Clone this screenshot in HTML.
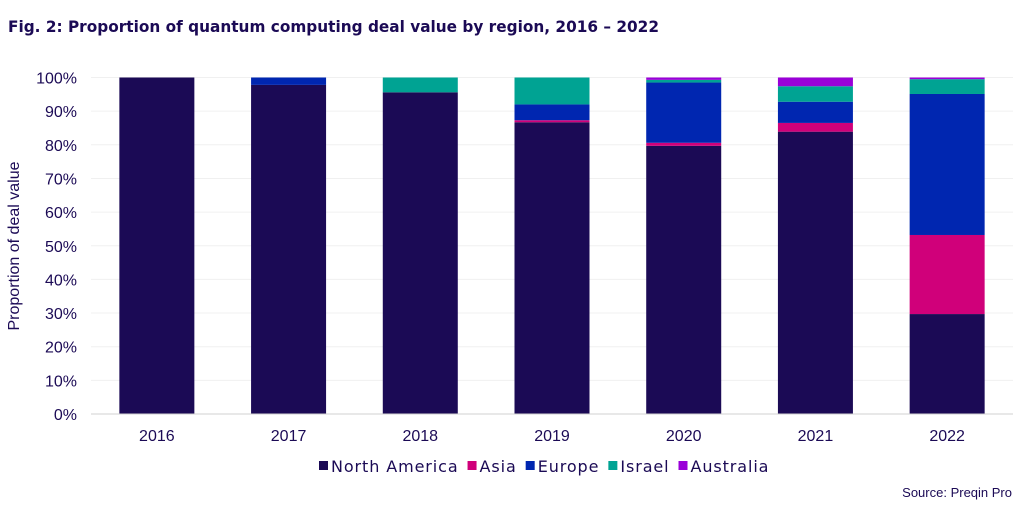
<!DOCTYPE html>
<html><head><meta charset="utf-8"><style>
body{margin:0;background:#fff;font-family:"Liberation Sans",sans-serif;}
</style></head><body>
<svg width="1024" height="512" xmlns="http://www.w3.org/2000/svg">
<text x="8" y="32" font-size="16" font-weight="bold" fill="#1b0a55" font-family="DejaVu Sans, sans-serif" textLength="651" lengthAdjust="spacingAndGlyphs">Fig. 2: Proportion of quantum computing deal value by region, 2016 – 2022</text>
<g id="grid"></g>
<g id="bars"></g>
<g id="axes"></g>
<text transform="translate(19,246) rotate(-90)" text-anchor="middle" font-size="16" fill="#1b0a55">Proportion of deal value</text>
<g id="legend"></g>
<text x="1012" y="497" text-anchor="end" font-size="13" fill="#1b0a55">Source: Preqin Pro</text>
</svg>
<script>
const categories=["2016","2017","2018","2019","2020","2021","2022"];
const northAmerica=[100,97.8,95.6,86.7,79.7,83.9,29.7];
const asia=[0,0,0,0.6,0.9,2.6,23.5];
const europe=[0,2.2,0,4.7,17.9,6.3,41.9];
const israel=[0,0,4.4,8.0,0.8,4.6,4.4];
const australia=[0,0,0,0,0.7,2.6,0.5];
const yTicks=[0,10,20,30,40,50,60,70,80,90,100];
const seriesNames=["North America","Asia","Europe","Israel","Australia"];
const colors=["#1b0a55","#d0007a","#0026b0","#00a393","#9a00d8"];
const series=[northAmerica,asia,europe,israel,australia];
const NS="http://www.w3.org/2000/svg";
const x0=91,x1=1013,y0=414,y1=77.5;
const y=v=>y0-(y0-y1)*v/100;
const step=(x1-x0)/categories.length;
const xc=i=>x0+step*(i+0.5);
const bw=75;
function mk(t,a,p){const e=document.createElementNS(NS,t);for(const k in a)e.setAttribute(k,a[k]);p.appendChild(e);return e;}
const grid=document.getElementById('grid'),axes=document.getElementById('axes'),bars=document.getElementById('bars'),leg=document.getElementById('legend');
yTicks.forEach(t=>{
 if(t>0){const l=mk('line',{x1:x0,x2:x1,y1:y(t),y2:y(t),stroke:'#f0f0f0'},grid);
 
 }
 const tx=mk('text',{x:77,y:y(t)+6,'text-anchor':'end','font-size':16,fill:'#1b0a55'},axes);
 tx.textContent=t+'%';
 
 
});
const ax=mk('line',{x1:x0,x2:x1,y1:y0,y2:y0,stroke:'#d0d0d0'},axes);


categories.forEach((c,i)=>{
 let acc=0;
 series.forEach((s,j)=>{
  const v=s[i];if(v<=0)return;
  const r=mk('rect',{x:xc(i)-bw/2,y:y(acc+v),width:bw,height:y(acc)-y(acc+v),fill:colors[j]},bars);
  
  
  acc+=v;
 });
 const tx=mk('text',{x:xc(i),y:441,'text-anchor':'middle','font-size':16,fill:'#1b0a55'},axes);
 tx.textContent=c;
 
 
});
let lx=319;
seriesNames.forEach((n,j)=>{
 const g=mk('g',{},leg);
 
 
 mk('rect',{x:lx,y:461,width:9,height:9,fill:colors[j]},g);
 const t=mk('text',{x:lx+12,y:472,'font-size':16,fill:'#1b0a55','font-family':'DejaVu Sans, sans-serif','letter-spacing':'0.9'},g);
 t.textContent=n;
 lx+=12+t.getComputedTextLength()+9;
});
</script>
</body></html>
